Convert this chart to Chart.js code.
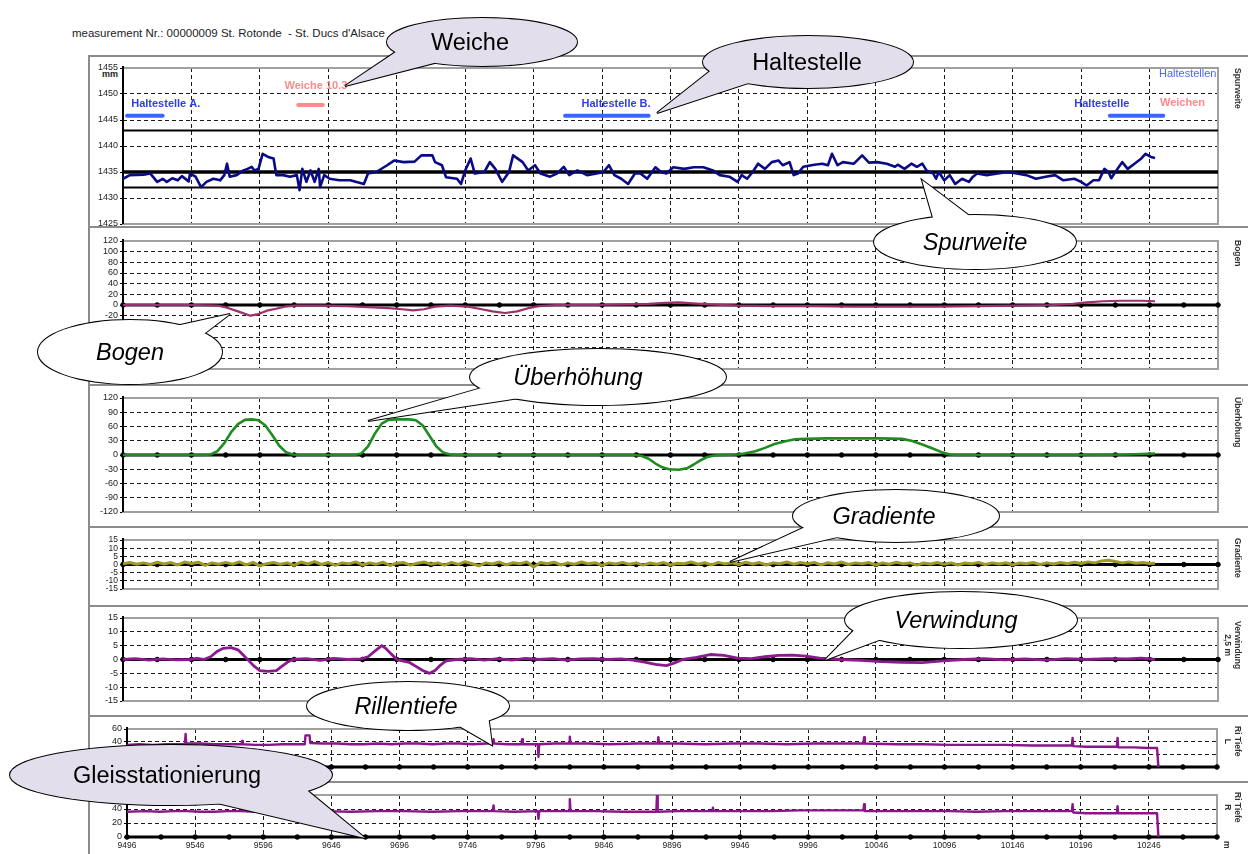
<!DOCTYPE html>
<html>
<head>
<meta charset="utf-8">
<script src="https://cdn.jsdelivr.net/npm/chart.js@4.4.1/dist/chart.umd.min.js"></script>
<style>
  body { margin: 0; background: #fff; font-family: Arial, "Liberation Sans", sans-serif; }
  #page { position: relative; width: 1248px; height: 854px; overflow: hidden; background: #fff; }
  canvas { position: absolute; left: 88px; z-index: 2; }
  .line { position: absolute; background: #8c8c8c; z-index: 3; }
  .side { position: absolute; transform: rotate(90deg); transform-origin: 0 0; white-space: nowrap;
          font-size: 8.5px; font-weight: bold; line-height: 10px; color: #333; text-align: center; z-index: 4; }
  #title { position: absolute; left: 72px; top: 27px; font-size: 11.5px; color: #222; white-space: pre; }
  #mm { position: absolute; left: 96px; width: 22px; top: 69px; text-align: right; font-size: 9px; font-weight: bold; color: #222; }
  svg { position: absolute; left: 0; top: 0; z-index: 5; }
</style>
</head>
<body>
<div id="page">
  <div id="title">measurement Nr.: 00000009 St. Rotonde  - St. Ducs d'Alsace</div>

  <!-- outer frame and panel separators -->
  <div class="line" style="left:88px;top:55px;width:1160px;height:2px"></div>
  <div class="line" style="left:88px;top:55px;width:2px;height:800px"></div>
  <div class="line" style="left:88px;top:226px;width:1160px;height:2px"></div>
  <div class="line" style="left:88px;top:384px;width:1160px;height:2px"></div>
  <div class="line" style="left:88px;top:526px;width:1160px;height:2px"></div>
  <div class="line" style="left:88px;top:605px;width:1160px;height:2px"></div>
  <div class="line" style="left:88px;top:715px;width:1160px;height:2px"></div>
  <div class="line" style="left:88px;top:781px;width:1160px;height:2px"></div>

  <canvas id="c1" width="1160" height="172" style="top:60px"></canvas>
  <canvas id="c2" width="1160" height="144" style="top:233px"></canvas>
  <canvas id="c3" width="1160" height="130" style="top:390px"></canvas>
  <canvas id="c4" width="1160" height="65" style="top:532px"></canvas>
  <canvas id="c5" width="1160" height="99" style="top:610px"></canvas>
  <canvas id="c6" width="1160" height="54" style="top:721px"></canvas>
  <canvas id="c7" width="1160" height="66" style="top:787px"></canvas>

  <div id="mm">mm</div>
  <div class="side" style="left:1243px;top:68px">Spurweite</div>
  <div class="side" style="left:1243px;top:240px">Bogen</div>
  <div class="side" style="left:1243px;top:397px">Überhöhung</div>
  <div class="side" style="left:1243px;top:538px">Gradiente</div>
  <div class="side" style="left:1243px;top:621px">Verwindung<br>2,5 m</div>
  <div class="side" style="left:1243px;top:726px">Ri Tiefe<br>L</div>
  <div class="side" style="left:1243px;top:792px">Ri Tiefe<br>R</div>
  <div class="side" style="left:1232px;top:841px">m</div>

  <svg id="callouts" width="1248" height="854"></svg>
</div>

<script>
// ---- axis values ----
const kmMin = 9496;
const kmMax = 10296;
const kmTicks = [9496, 9546, 9596, 9646, 9696, 9746, 9796, 9846, 9896, 9946, 9996, 10046, 10096, 10146, 10196, 10246, 10296];
const zeroMarks = [9496, 9521, 9546, 9571, 9596, 9621, 9646, 9671, 9696, 9721, 9746, 9771, 9796, 9821, 9846, 9871, 9896,
                   9921, 9946, 9971, 9996, 10021, 10046, 10071, 10096, 10121, 10146, 10171, 10196, 10221, 10246, 10271, 10296];

// ---- Spurweite (mm) ----
const spurLimits = [1443, 1435, 1432];
const spurweite = [
  [9496,1433.7],[9501,1434.4],[9511,1434.5],[9516,1434.7],[9521,1433.1],[9525,1433.7],[9528,1433.1],[9532,1433.8],
  [9536,1433.4],[9539,1434.2],[9544,1433.2],[9545,1434.7],[9549,1434.1],[9553,1432.1],[9557,1433.1],[9562,1433.7],
  [9567,1433.4],[9570,1434.4],[9572,1436.6],[9574,1434.1],[9579,1434.4],[9584,1435.3],[9587,1435.6],[9590,1436.0],
  [9592,1435.3],[9595,1435.6],[9598,1438.5],[9602,1437.9],[9606,1437.6],[9608,1434.4],[9613,1434.4],[9618,1434.1],
  [9623,1434.4],[9625,1431.5],[9627,1435.6],[9630,1433.1],[9633,1435.3],[9636,1433.1],[9639,1435.6],[9640,1432.1],
  [9643,1434.4],[9647,1433.7],[9654,1433.4],[9662,1433.4],[9672,1432.7],[9675,1434.7],[9681,1435.0],[9689,1436.3],
  [9694,1437.2],[9701,1436.9],[9709,1437.0],[9714,1438.2],[9722,1438.2],[9724,1436.9],[9729,1436.3],[9732,1434.0],
  [9740,1433.7],[9743,1432.7],[9746,1435.3],[9750,1437.6],[9753,1434.7],[9760,1435.0],[9764,1436.9],[9768,1435.6],
  [9773,1433.1],[9778,1435.0],[9781,1438.2],[9788,1436.9],[9792,1435.3],[9797,1436.3],[9801,1434.7],[9808,1434.1],
  [9813,1434.7],[9818,1436.0],[9822,1434.4],[9828,1435.3],[9835,1434.4],[9842,1434.7],[9847,1435.0],[9851,1436.3],
  [9855,1434.4],[9860,1433.7],[9865,1432.7],[9870,1434.7],[9874,1434.7],[9879,1433.7],[9885,1435.9],[9889,1435.0],
  [9893,1434.7],[9898,1435.9],[9906,1435.6],[9913,1435.9],[9920,1435.9],[9927,1435.3],[9932,1434.4],[9939,1434.1],
  [9945,1433.1],[9948,1434.4],[9952,1433.7],[9956,1435.0],[9960,1436.6],[9965,1435.6],[9970,1436.9],[9975,1437.2],
  [9978,1436.3],[9983,1436.9],[9986,1434.4],[9989,1434.7],[9993,1436.0],[10001,1436.4],[10007,1436.6],[10011,1436.3],
  [10014,1438.5],[10018,1436.3],[10022,1436.9],[10030,1436.6],[10036,1438.2],[10041,1436.8],[10047,1436.9],[10054,1436.6],
  [10060,1436.0],[10062,1436.4],[10067,1435.6],[10072,1436.6],[10076,1436.0],[10080,1436.6],[10083,1435.3],[10088,1434.7],
  [10090,1433.7],[10092,1435.0],[10096,1433.4],[10100,1434.4],[10104,1432.7],[10109,1433.7],[10114,1433.1],[10117,1434.1],
  [10120,1434.7],[10127,1434.4],[10135,1434.7],[10142,1435.0],[10149,1434.7],[10156,1434.4],[10163,1433.7],[10170,1434.1],
  [10177,1434.4],[10183,1433.4],[10191,1433.7],[10196,1433.1],[10200,1432.4],[10205,1433.4],[10209,1433.4],[10213,1435.6],
  [10216,1435.0],[10218,1433.8],[10221,1435.0],[10226,1436.9],[10230,1435.6],[10235,1436.6],[10240,1437.6],[10243,1438.5],
  [10247,1437.9],[10250,1437.7]
];

// stops and switches drawn in the Spurweite panel
const haltNames = ['Haltestelle A.', 'Haltestelle B.', 'Haltestelle'];
const haltFrom = [9499, 9819, 10217];
const haltTo = [9525, 9880, 10256];
const haltLabelKm = [9502, 9831, 10191];
const haltBarMm = 1445.8;
const haltLabelMm = 1448.1;
const weicheNames = ['Weiche 10.3'];
const weicheFrom = [9624];
const weicheTo = [9642];
const weicheLabelKm = [9614];
const weicheBarMm = 1447.9;
const weicheLabelMm = 1451.5;

// ---- Bogen ----
const bogen = [
  [9496,0],[9520,0],[9550,0],[9565,-1],[9572,-5],[9580,-12],[9589,-20],[9595,-17],[9602,-10],[9608,-7],[9614,-3],
  [9622,-1],[9640,-1],[9660,-2],[9675,-4],[9690,-6],[9700,-8],[9708,-10],[9716,-8],[9724,-3],[9735,-1],[9748,-3],
  [9758,-8],[9766,-12],[9775,-15],[9784,-12],[9792,-6],[9800,-2],[9812,0],[9840,0],[9865,1],[9880,2],[9892,4],
  [9902,5],[9912,3],[9925,1],[9945,-1],[9970,-2],[10000,-2],[10030,-3],[10060,-3],[10090,-3],[10120,-2],[10150,-1],
  [10175,0],[10190,2],[10200,5],[10212,7],[10225,8],[10240,8],[10250,7]
];

// ---- Überhöhung ----
const ueberhoehung = [
  [9496,0],[9555,0],[9560,1],[9565,8],[9570,25],[9575,48],[9580,65],[9585,74],[9590,75],[9595,73],[9600,62],
  [9605,42],[9610,20],[9615,6],[9620,1],[9625,0],[9665,0],[9670,3],[9675,18],[9680,45],[9685,66],[9690,74],
  [9695,75],[9705,75],[9710,73],[9715,62],[9720,40],[9725,18],[9730,5],[9735,1],[9740,0],[9870,0],[9875,-2],
  [9880,-8],[9885,-18],[9890,-26],[9895,-30],[9902,-31],[9908,-28],[9913,-20],[9918,-11],[9923,-4],[9928,-1],
  [9935,0],[9945,1],[9950,3],[9958,8],[9965,15],[9972,23],[9980,29],[9987,33],[9995,34],[10010,35],[10030,35],
  [10050,35],[10065,34],[10072,30],[10080,22],[10088,13],[10095,5],[10100,1],[10105,0],[10200,0],[10230,1],[10250,3]
];

// ---- Gradiente ----
const gradiente = [
  [9496,0.5],[9501,1.2],[9506,0.2],[9511,1],[9516,0],[9521,1.4],[9526,0.3],[9531,1.2],[9536,-0.3],[9541,1.5],
  [9546,0.6],[9551,1.4],[9556,-0.5],[9561,1],[9566,0.2],[9571,1.3],[9576,0.2],[9581,1.6],[9586,-0.2],[9591,1.3],
  [9596,-0.8],[9601,0.5],[9606,1.2],[9611,0.1],[9616,1],[9621,-0.5],[9626,1.5],[9631,0.3],[9636,1.8],[9641,0],
  [9646,1.2],[9651,-0.5],[9656,1],[9661,0.4],[9666,1.6],[9671,-0.3],[9676,1],[9681,0.2],[9686,1.4],[9691,-0.6],
  [9696,0.8],[9701,1.2],[9706,-0.4],[9711,0.8],[9716,1.5],[9721,0.2],[9726,1],[9731,-0.4],[9736,1.3],[9741,0.1],
  [9746,1.7],[9751,0.5],[9756,-0.8],[9761,1],[9766,0.3],[9771,1.5],[9776,-0.2],[9781,1.1],[9786,0.4],[9791,1.6],
  [9796,-1.5],[9801,1.2],[9806,0.5],[9811,1.4],[9816,-0.3],[9821,1],[9826,0.2],[9831,1.5],[9836,0.4],[9841,1.1],
  [9846,-0.5],[9851,1],[9856,0.3],[9861,1.3],[9866,0.1],[9871,1],[9876,-0.4],[9881,0.9],[9886,0.2],[9891,1.2],
  [9896,-0.3],[9901,0.8],[9906,0.5],[9911,1.5],[9916,0.2],[9921,1.1],[9926,-0.2],[9931,1.3],[9936,0.4],[9941,1],
  [9946,0],[9951,1.4],[9956,0.3],[9961,1.2],[9966,-0.3],[9971,1],[9976,0.5],[9981,1.5],[9986,0.2],[9991,1.2],
  [9996,0.4],[10001,1.3],[10006,-0.2],[10011,1.1],[10016,0.3],[10021,1.5],[10026,0],[10031,1],[10036,0.5],[10041,1.2],
  [10046,-0.3],[10051,1],[10056,0.2],[10061,1.4],[10066,0.4],[10071,1],[10076,-0.4],[10081,0.9],[10086,0.3],[10091,1.2],
  [10096,0.1],[10101,1],[10106,-0.3],[10111,0.9],[10116,0.4],[10121,1.3],[10126,0],[10131,1],[10136,0.3],[10141,1.1],
  [10146,-0.2],[10151,0.9],[10156,0.4],[10161,1.2],[10166,0],[10171,1],[10176,0.3],[10181,1.2],[10186,0.5],[10191,1.4],
  [10196,0.6],[10201,1.6],[10206,1],[10211,2.2],[10216,2.6],[10221,1.8],[10226,1],[10231,1.6],[10236,0.8],[10241,1.2],
  [10246,0.6],[10250,0.8]
];

// ---- Verwindung 2,5 m ----
const verwindung = [
  [9496,0],[9505,0.3],[9515,-0.2],[9525,0.2],[9535,-0.1],[9545,0],[9550,0.4],[9555,0],[9560,1],[9565,3],[9569,4],
  [9575,4.3],[9580,3.5],[9584,1.5],[9588,-0.5],[9592,-2.5],[9596,-4],[9602,-4.3],[9608,-4],[9612,-2.5],[9616,-1],
  [9620,0],[9630,0.3],[9640,-0.3],[9650,0.4],[9660,0],[9670,0.2],[9675,1],[9680,3],[9685,5],[9688,4],[9692,2],
  [9696,0],[9700,-0.5],[9705,-1],[9710,-2.5],[9715,-4],[9720,-5],[9724,-4],[9728,-2],[9732,-0.5],[9740,0],
  [9750,0.3],[9760,-0.2],[9770,0.3],[9780,-0.2],[9790,0.4],[9800,0],[9810,0.3],[9820,-0.2],[9830,0.2],[9840,0.3],
  [9850,0],[9860,0.2],[9870,-0.3],[9878,-1],[9885,-1.8],[9893,-2.2],[9898,-1.4],[9905,0],[9915,0.8],[9925,1.8],
  [9935,1.5],[9945,0.5],[9955,0.3],[9965,1],[9975,1.5],[9985,1.6],[9995,1.2],[10005,0.5],[10020,0],[10035,-0.3],
  [10050,-0.8],[10065,-1],[10080,-1.1],[10095,-0.5],[10110,0],[10125,0.3],[10140,-0.1],[10155,0.2],[10170,-0.2],
  [10185,0.3],[10200,0],[10215,0.3],[10230,0.2],[10240,0.5],[10250,0]
];

// ---- Rillentiefe links / rechts ----
const rillL = [
  [9496,35],[9505,36],[9515,35],[9525,36],[9535,36],[9538.5,36],[9539,52],[9539.5,37],[9550,37],[9560,36],[9570,36],
  [9580,36],[9580.5,41],[9581,36],[9590,35],[9600,35],[9610,36],[9620,36],[9626.5,36],[9627,50],[9630,50],[9630.5,38],
  [9640,37],[9650,37],[9660,36],[9670,36],[9680,37],[9690,36],[9700,37],[9710,37],[9720,36],[9730,37],[9740,37],
  [9750,36],[9760,37],[9764.5,37],[9765,44],[9765.5,37],[9775,36],[9785.5,36],[9786,44],[9786.5,36],[9797.5,36],
  [9798,16],[9798.5,36],[9810,37],[9820.5,37],[9821,48],[9821.5,37],[9835,37],[9850,36],[9870,37],[9885.5,37],
  [9886,47],[9886.5,37],[9900,37],[9920,36],[9940,37],[9960,37],[9980,36],[10000,37],[10020,37],[10036.5,37],
  [10037,47],[10037.5,37],[10060,36],[10080,36],[10100,35],[10120,35],[10140,35],[10160,34],[10180,34],[10189.5,34],
  [10190,46],[10190.5,33],[10200,32],[10210,32],[10222.5,32],[10223,46],[10223.5,31],[10235,31],[10245,30],
  [10252,30],[10253,0]
];
const rillR = [
  [9496,36],[9510,37],[9520,36],[9530,37],[9540,37],[9550,36],[9560,36],[9570,37],[9580,37],[9590,36],[9600,36],
  [9610,37],[9620,37],[9640,37],[9660,36],[9680,37],[9700,37],[9720,36],[9740,37],[9764.5,37],[9765,45],[9765.5,37],
  [9780,36],[9797.5,37],[9798,26],[9798.5,37],[9810,37],[9820.5,37],[9821,54],[9821.5,37],[9840,37],[9860,36],
  [9884.5,36],[9885,60],[9885.5,36],[9900,37],[9925.5,37],[9926,42],[9926.5,37],[9950,37],[9970,37],[9990,38],
  [10010,38],[10036.5,38],[10037,47],[10037.5,37],[10060,37],[10080,37],[10100,37],[10120,36],[10140,37],[10160,37],
  [10180,37],[10189.5,37],[10190,47],[10190.5,35],[10200,34],[10222.5,34],[10223,44],[10223.5,34],[10240,34],
  [10252,34],[10253,0]
];

const FONT = 'Arial, "Liberation Sans", sans-serif';
const toXY = arr => arr.map(p => ({x: p[0], y: p[1]}));

function series(pairs, color, width) {
  return { data: toXY(pairs), borderColor: color, borderWidth: width, pointRadius: 0, order: 0 };
}

function zeroLine() {
  return {
    data: zeroMarks.map(k => ({x: k, y: 0})),
    borderColor: '#000', borderWidth: 3, pointRadius: 2.3, pointStyle: 'circle',
    pointBackgroundColor: '#000', pointBorderColor: '#000', pointBorderWidth: 1, clip: false, order: 1
  };
}

function levelLine(value, width) {
  return {
    data: [{x: kmMin, y: value}, {x: kmMax, y: value}],
    borderColor: '#000', borderWidth: width, pointRadius: 0, order: 1
  };
}

function segment(from, to, value, color) {
  return {
    data: [{x: from, y: value}, {x: to, y: value}],
    borderColor: color, borderWidth: 4, borderCapStyle: 'round', pointRadius: 0, order: 0
  };
}

// grey frame + black left axis under the data
const framePlugin = {
  id: 'frame',
  beforeDatasetsDraw(chart) {
    const {ctx, chartArea: a} = chart;
    ctx.save();
    ctx.strokeStyle = '#a0a0a0';
    ctx.lineWidth = 2;
    ctx.strokeRect(a.left, a.top, a.right - a.left, a.bottom - a.top);
    ctx.strokeStyle = '#000';
    ctx.beginPath();
    ctx.moveTo(a.left, a.top - 2);
    ctx.lineTo(a.left, a.bottom);
    ctx.stroke();
    ctx.restore();
  }
};

// text for stops / switches in the Spurweite panel
const stopTextPlugin = {
  id: 'stopText',
  afterDatasetsDraw(chart) {
    const {ctx, chartArea: a, scales: {x, y}} = chart;
    ctx.save();
    ctx.textBaseline = 'middle';
    ctx.font = 'bold 11px ' + FONT;
    ctx.fillStyle = '#2f3fe0';
    haltNames.forEach((n, i) => ctx.fillText(n, x.getPixelForValue(haltLabelKm[i]), y.getPixelForValue(haltLabelMm)));
    ctx.fillStyle = '#ff8a8a';
    weicheNames.forEach((n, i) => ctx.fillText(n, x.getPixelForValue(weicheLabelKm[i]), y.getPixelForValue(weicheLabelMm)));
    // legend in the top right corner
    ctx.fillText('Weichen', a.right - 58, y.getPixelForValue(1448.3));
    ctx.font = '11px ' + FONT;
    ctx.fillStyle = '#4d63ff';
    ctx.fillText('Haltestellen', a.right - 59, y.getPixelForValue(1453.8));
    ctx.restore();
  }
};

function panel(id, cfg) {
  const last = !!cfg.xLabels;
  return new Chart(document.getElementById(id), {
    type: 'line',
    data: { datasets: cfg.datasets },
    options: {
      responsive: false,
      animation: false,
      devicePixelRatio: 1,
      events: [],
      layout: { padding: { left: 0, right: cfg.right, top: 8, bottom: last ? 0 : 8 } },
      plugins: { legend: { display: false }, tooltip: { enabled: false } },
      elements: { line: { tension: 0, borderJoinStyle: 'round' } },
      scales: {
        x: {
          type: 'linear', min: kmMin, max: kmMax,
          afterBuildTicks: s => { s.ticks = kmTicks.map(v => ({value: v})); },
          afterFit: s => { s.height = last ? 16 : 0; },
          ticks: {
            display: last, autoSkip: false, maxRotation: 0, padding: 4, color: '#222',
            font: { family: FONT, size: 8.5 },
            callback: v => (v === kmMax ? '' : String(v))
          },
          grid: { color: '#1a1a1a', lineWidth: 1, drawTicks: false, borderDash: [4, 3] },
          border: { display: false, dash: [4, 3] }
        },
        y: {
          min: cfg.min, max: cfg.max,
          afterFit: s => { s.width = cfg.yWidth; },
          ticks: { stepSize: cfg.step, autoSkip: false, padding: 2, color: '#222',
                   font: { family: FONT, size: cfg.tickSize || 9 }, callback: v => String(v) },
          grid: { color: '#1a1a1a', lineWidth: 1, tickLength: 3, tickColor: '#000', borderDash: [4, 3] },
          border: { display: false, dash: [4, 3] }
        }
      }
    },
    plugins: cfg.plugins || [framePlugin]
  });
}

panel('c1', {
  min: 1425, max: 1455, step: 5, yWidth: 35, right: 30,
  datasets: [
    series(spurweite, '#0a0a86', 2.6),
    levelLine(spurLimits[0], 2), levelLine(spurLimits[1], 3.5), levelLine(spurLimits[2], 2),
    ...haltFrom.map((f, i) => segment(f, haltTo[i], haltBarMm, '#3a66ff')),
    ...weicheFrom.map((f, i) => segment(f, weicheTo[i], weicheBarMm, '#ff8c8c'))
  ],
  plugins: [framePlugin, stopTextPlugin]
});
panel('c2', { min: -120, max: 120, step: 20, yWidth: 35, right: 30,
  datasets: [series(bogen, '#9c2f6c', 2.2), zeroLine()] });
panel('c3', { min: -120, max: 120, step: 30, yWidth: 35, right: 30,
  datasets: [series(ueberhoehung, '#1f8c1f', 2.6), zeroLine()] });
panel('c4', { min: -15, max: 15, step: 5, yWidth: 35, right: 30, tickSize: 8.5,
  datasets: [series(gradiente, '#9d9a2a', 3), zeroLine()] });
panel('c5', { min: -15, max: 15, step: 5, yWidth: 35, right: 30,
  datasets: [series(verwindung, '#8a1a8e', 2.8), zeroLine()] });
panel('c6', { min: 0, max: 60, step: 20, yWidth: 39, right: 31,
  datasets: [series(rillL, '#8c148c', 2.4), zeroLine()] });
panel('c7', { min: 0, max: 60, step: 20, yWidth: 39, right: 31, xLabels: true,
  datasets: [series(rillR, '#8c148c', 2.4), zeroLine()] });

// ---- callout bubbles (annotation layer) ----
const bubbles = [
  { text: 'Weiche', cx: 482, cy: 42, rx: 95, ry: 24, tip: [345, 86], a: [162, 118], tx: 470, fill: '#e3deec', italic: false },
  { text: 'Haltestelle', cx: 808, cy: 62, rx: 105, ry: 26, tip: [657, 113], a: [168, 125], tx: 807, fill: '#e3deec', italic: false },
  { text: 'Spurweite', cx: 975, cy: 242, rx: 101, ry: 27, tip: [922, 180], a: [243, 268], tx: 975, fill: '#fff', italic: true },
  { text: 'Bogen', cx: 130, cy: 352, rx: 92, ry: 32, tip: [230, 314], a: [300, 328], tx: 130, fill: '#fff', italic: true },
  { text: 'Überhöhung', cx: 598, cy: 377, rx: 128, ry: 28, tip: [368, 421], a: [160, 128], tx: 578, fill: '#fff', italic: true },
  { text: 'Gradiente', cx: 896, cy: 516, rx: 103, ry: 26, tip: [730, 562], a: [158, 124], tx: 884, fill: '#fff', italic: true },
  { text: 'Verwindung', cx: 961, cy: 620, rx: 116, ry: 28, tip: [825, 660], a: [168, 136], tx: 956, fill: '#fff', italic: true },
  { text: 'Rillentiefe', cx: 408, cy: 706, rx: 101, ry: 24, tip: [492, 745], a: [58, 28], tx: 406, fill: '#fff', italic: true },
  { text: 'Gleisstationierung', cx: 171, cy: 775, rx: 161, ry: 30, tip: [365, 838], a: [75, 25], tx: 167, fill: '#e3deec', italic: false }
];

const NS = 'http://www.w3.org/2000/svg';
const svg = document.getElementById('callouts');
function el(name, attrs) {
  const e = document.createElementNS(NS, name);
  for (const k in attrs) e.setAttribute(k, attrs[k]);
  svg.appendChild(e);
  return e;
}
bubbles.forEach(b => {
  const pts = b.a.map(deg => {
    const r = deg * Math.PI / 180;
    return [b.cx + 0.9 * b.rx * Math.cos(r), b.cy + 0.9 * b.ry * Math.sin(r)];
  });
  const poly = [pts[0], b.tip, pts[1]].map(p => p.join(',')).join(' ');
  // outlines first, fills on top -> single outline around the union
  el('polygon', { points: poly, fill: 'none', stroke: '#000', 'stroke-width': 2, 'stroke-linejoin': 'miter' });
  el('ellipse', { cx: b.cx, cy: b.cy, rx: b.rx, ry: b.ry, fill: 'none', stroke: '#000', 'stroke-width': 2 });
  el('polygon', { points: poly, fill: b.fill, stroke: 'none' });
  el('ellipse', { cx: b.cx, cy: b.cy, rx: b.rx, ry: b.ry, fill: b.fill, stroke: 'none' });
  const t = el('text', { x: b.tx, y: b.cy + 8, 'text-anchor': 'middle', 'font-family': FONT, 'font-size': 23.5,
                         'font-style': b.italic ? 'italic' : 'normal', fill: '#000' });
  t.textContent = b.text;
});
</script>
</body>
</html>
